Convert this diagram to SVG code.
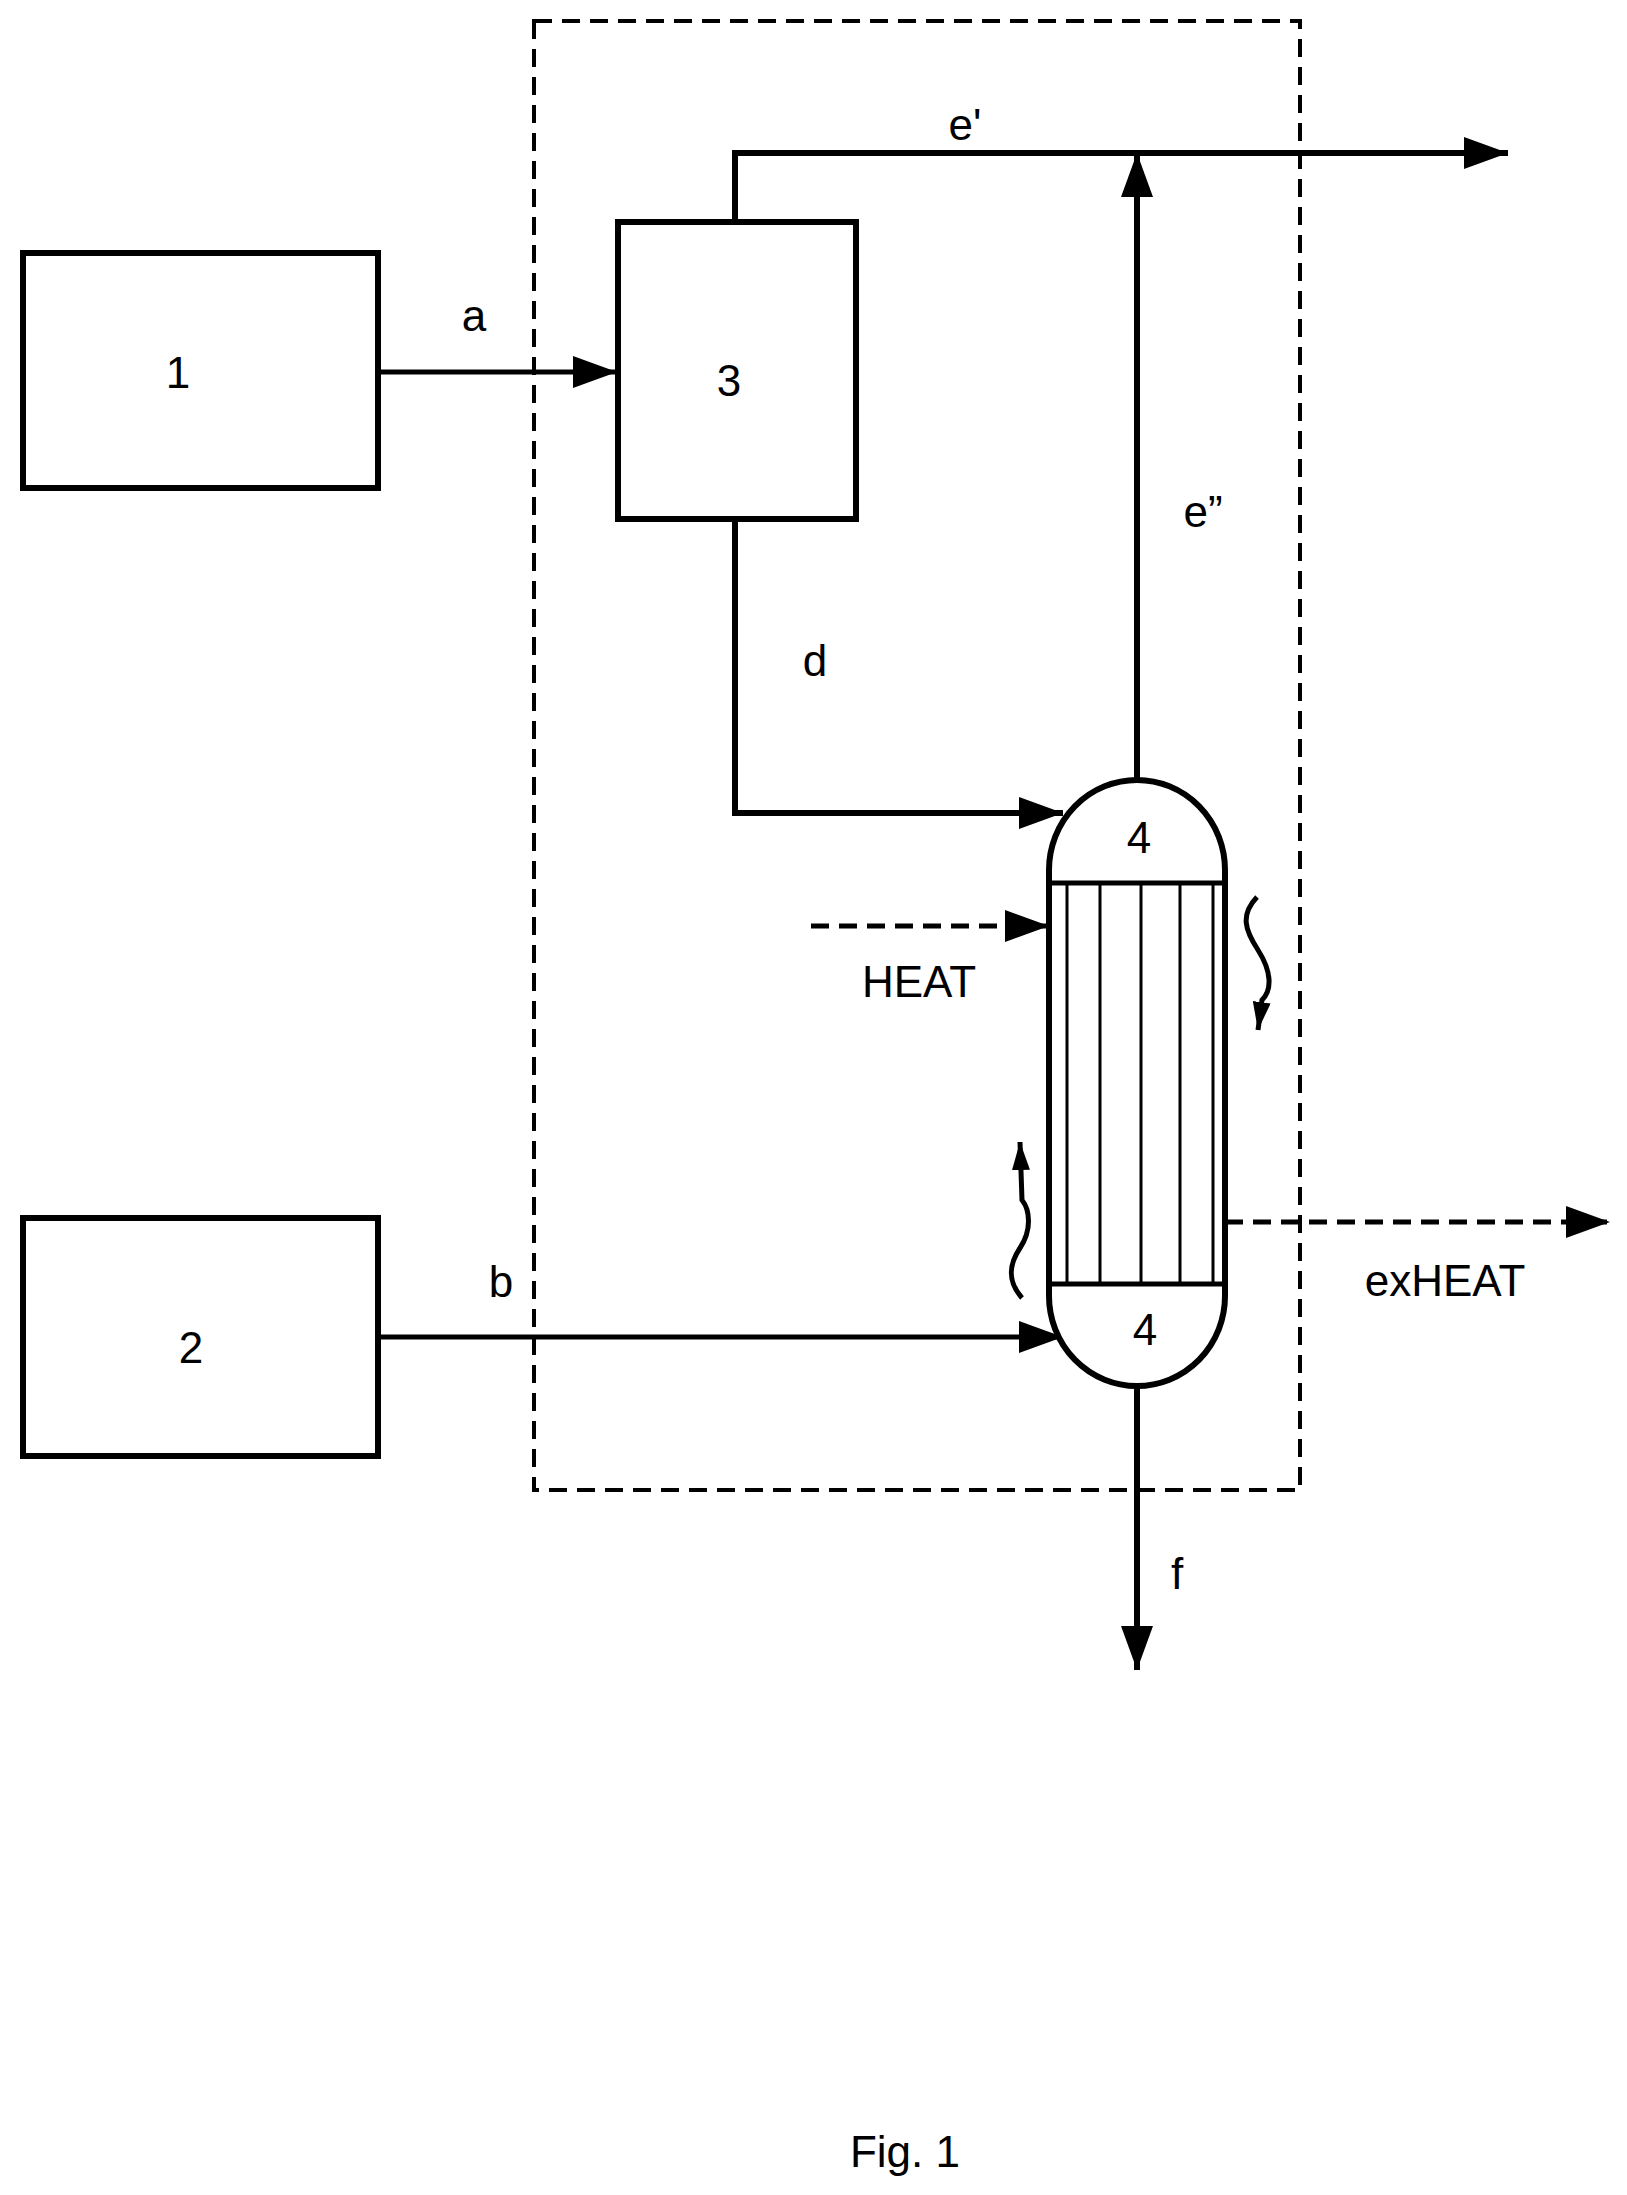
<svg xmlns="http://www.w3.org/2000/svg" width="1627" height="2195" viewBox="0 0 1627 2195">
<style>
.box{fill:#fff;stroke:#000;stroke-width:6}
.ln{fill:none;stroke:#000;stroke-width:5}
.th{fill:none;stroke:#000;stroke-width:6}
.ds{fill:none;stroke:#000;stroke-width:4;stroke-dasharray:18,10}
.dl{fill:none;stroke:#000;stroke-width:5;stroke-dasharray:18,10}
text{font-family:"Liberation Sans",Arial,sans-serif;font-size:44px;fill:#000;text-anchor:middle}
</style>
<defs>
<marker id="ah" viewBox="0 0 44 32" refX="44" refY="16" markerWidth="44" markerHeight="32" markerUnits="userSpaceOnUse" orient="auto"><path d="M0,0 L44,16 L0,32 Z" fill="#000"/></marker>
<marker id="sa" viewBox="0 0 28 18" refX="28" refY="9" markerWidth="28" markerHeight="18" markerUnits="userSpaceOnUse" orient="auto"><path d="M0,0 L28,9 L0,18 Z" fill="#000"/></marker>
</defs>
<rect class="ds" x="534" y="21" width="766" height="1469"/>
<g id="connectors">
<path class="ln" d="M379,372 H617" marker-end="url(#ah)"/>
<path class="th" d="M735,222 V153 H1508" marker-end="url(#ah)"/>
<path class="th" d="M1137,780 V153" marker-end="url(#ah)"/>
<path class="th" d="M735,519 V813 H1063" marker-end="url(#ah)"/>
<path class="ln" d="M379,1337 H1063" marker-end="url(#ah)"/>
<path class="dl" d="M811,926 H1049" marker-end="url(#ah)"/>
<path class="dl" d="M1225,1222 H1610" marker-end="url(#ah)"/>
<path class="th" d="M1137,1386 V1670" marker-end="url(#ah)"/>
<path class="ln" d="M1257,897 C1240,915 1245,930 1258,950 C1272,972 1272,990 1262,1000 L1258,1030" stroke-width="3" marker-end="url(#sa)"/>
<path class="ln" d="M1022,1298 C1008,1282 1008,1266 1020,1248 C1032,1230 1030,1210 1022,1200 L1020,1142" stroke-width="3" marker-end="url(#sa)"/>
</g>
<g id="n1"><rect class="box" x="23" y="253" width="355" height="235"/><text x="178" y="388">1</text></g>
<g id="n2"><rect class="box" x="23" y="1218" width="355" height="238"/><text x="191" y="1363">2</text></g>
<g id="n3"><rect class="box" x="618" y="222" width="238" height="297"/><text x="729" y="396">3</text></g>
<g id="n4">
<path class="box" d="M1049,870 A88,90 0 0 1 1225,870 V1296 A88,90 0 0 1 1049,1296 Z"/>
<path class="ln" d="M1049,883 H1225 M1049,1284 H1225" stroke-width="4"/>
<path d="M1067,883 V1284 M1100,883 V1284 M1141,883 V1284 M1180,883 V1284 M1213,883 V1284" stroke="#000" stroke-width="3"/>
<text x="1139" y="853">4</text>
<text x="1145" y="1345">4</text>
</g>
<g id="labels">
<text x="474" y="331">a</text>
<text x="501" y="1297">b</text>
<text x="815" y="676">d</text>
<text x="965" y="140">e'</text>
<text x="1203" y="527">e”</text>
<text x="919" y="997">HEAT</text>
<text x="1445" y="1296">exHEAT</text>
<text x="1177" y="1589">f</text>
<text x="905" y="2167">Fig. 1</text>
</g>
</svg>
